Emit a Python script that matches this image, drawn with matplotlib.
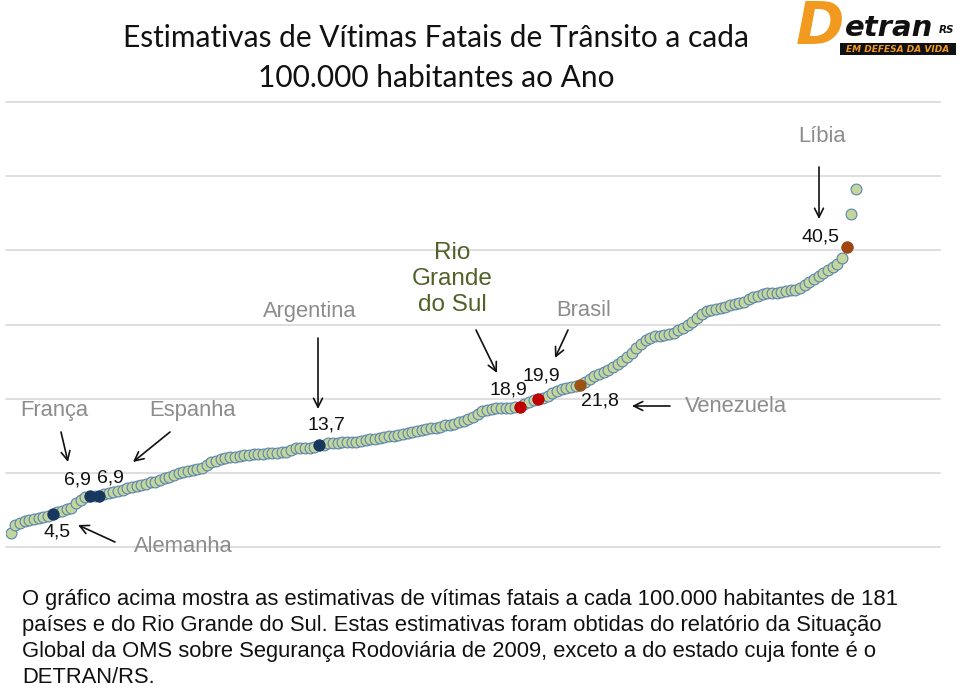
import matplotlib
matplotlib.use("Agg")
import matplotlib.pyplot as plt
from matplotlib.patches import Rectangle

# estimated road deaths per 100.000 inhabitants, sorted (181 countries + RS)
rates = [
    1.9, 3.0, 3.3, 3.5, 3.7, 3.8, 3.9, 4.0, 4.2, 4.5,
    4.7, 4.9, 5.1, 5.3, 5.9, 6.4, 6.7, 6.9, 6.9, 6.9,
    7.1, 7.3, 7.4, 7.6, 7.7, 7.9, 8.1, 8.2, 8.4, 8.5,
    8.7, 8.8, 9.0, 9.3, 9.5, 9.7, 10.0, 10.1, 10.3, 10.4,
    10.5, 10.7, 11.1, 11.4, 11.6, 11.8, 12.0, 12.1, 12.2, 12.3,
    12.4, 12.4, 12.5, 12.6, 12.6, 12.7, 12.7, 12.7, 12.8, 12.8,
    13.1, 13.3, 13.3, 13.4, 13.4, 13.5, 13.7, 13.8, 14.0, 14.0,
    14.0, 14.1, 14.1, 14.1, 14.2, 14.3, 14.4, 14.5, 14.6, 14.7,
    14.8, 14.9, 15.0, 15.1, 15.2, 15.4, 15.5, 15.6, 15.8, 15.9,
    16.0, 16.1, 16.2, 16.4, 16.5, 16.6, 16.8, 17.0, 17.3, 17.5,
    17.9, 18.3, 18.5, 18.6, 18.7, 18.8, 18.8, 18.8, 18.9, 18.9,
    19.3, 19.6, 19.8, 19.9, 20.1, 20.4, 20.7, 21.0, 21.3, 21.5,
    21.6, 21.7, 21.8, 22.3, 22.7, 23.0, 23.3, 23.6, 23.9, 24.3,
    24.7, 25.1, 25.6, 26.2, 26.8, 27.4, 27.9, 28.2, 28.4, 28.5,
    28.6, 28.7, 28.9, 29.2, 29.5, 29.9, 30.4, 30.9, 31.4, 31.8,
    32.0, 32.1, 32.2, 32.4, 32.6, 32.8, 32.9, 33.1, 33.4, 33.7,
    33.9, 34.1, 34.2, 34.3, 34.3, 34.4, 34.5, 34.6, 34.7, 34.9,
    35.3, 35.7, 36.1, 36.5, 36.9, 37.4, 37.7, 38.2, 39.0, 40.5,
    44.9, 48.3,
]
positions = list(range(1, len(rates) + 1))

# highlighted countries: name, position in ranking, colour group
highlight_names = ["Alemanha", "França", "Espanha", "Argentina",
                   "Rio Grande do Sul", "Brasil", "Venezuela", "Líbia"]
highlight_pos = [10, 18, 20, 67, 110, 114, 123, 180]
highlight_colors = ["#17375e", "#17375e", "#17375e", "#17375e",
                    "#c00000", "#c00000", "#9b5316", "#a0460e"]

W, H = 960, 688


def px(x, y):
    return (x / W, 1 - y / H)


fig = plt.figure(figsize=(9.6, 6.88), dpi=100)
fig.patch.set_facecolor("white")
ax = fig.add_axes([6 / W, 1 - 547 / H, 934 / W, 445 / H])

ax.plot(positions, rates, linestyle="none", marker="o", markersize=7.8,
        markerfacecolor="#c3d69b", markeredgecolor="#5b84b1",
        markeredgewidth=0.8, zorder=3)
for p, c in zip(highlight_pos, highlight_colors):
    ax.plot(p, rates[p - 1], marker="o", markersize=7.8, linestyle="none",
            markerfacecolor=c, markeredgecolor=c, zorder=4)

ax.set_xlim(0, 200)
ax.set_ylim(0, 60)
ax.set_yticks(range(0, 61, 10))
ax.set_xticks([])
ax.grid(axis="y", color="#d9d9d9", linewidth=1.2)
for gl in ax.yaxis.get_gridlines():
    gl.set_clip_on(False)
ax.tick_params(left=False, labelleft=False, bottom=False)
for s in ax.spines.values():
    s.set_visible(False)
ax.set_axisbelow(True)

# title
fig.text(*px(436, 38), "Estimativas de Vítimas Fatais de Trânsito a cada",
         family="Lato", fontsize=21.5, ha="center", va="center", color="#111111")
fig.text(*px(436, 78), "100.000 habitantes ao Ano",
         family="Lato", fontsize=21.5, ha="center", va="center", color="#111111")

# logo (text approximation)
fig.text(*px(820, 28), "D", family="DejaVu Sans", fontsize=42, fontweight="bold",
         fontstyle="italic", color="#f29a1f", ha="center", va="center")
fig.text(*px(845, 28), "etran", family="DejaVu Sans", fontsize=21, fontweight="bold",
         fontstyle="italic", color="#111111", ha="left", va="center")
fig.text(*px(947, 30), "RS", family="DejaVu Sans", fontsize=7.5, fontweight="bold",
         fontstyle="italic", color="#111111", ha="center", va="center")
fig.patches.append(Rectangle(px(840, 55), 116 / W, 12 / H, transform=fig.transFigure,
                             facecolor="#111111", edgecolor="none"))
fig.text(*px(898, 49), "EM DEFESA DA VIDA", family="DejaVu Sans", fontsize=6.5,
         fontweight="bold", fontstyle="italic", color="#f29a1f", ha="center", va="center")

gray = "#8c8c8c"
lab = dict(family="Liberation Sans", fontsize=15.8, ha="center", va="center")
fig.text(*px(822, 137), "Líbia", color=gray, **lab)
fig.text(*px(310, 312), "Argentina", color=gray, **lab)
fig.text(*px(584, 310), "Brasil", color=gray, **lab)
fig.text(*px(54, 411), "França", color=gray, **lab)
fig.text(*px(193, 411), "Espanha", color=gray, **lab)
fig.text(*px(736, 406), "Venezuela", color=gray, **lab)
fig.text(*px(183, 546), "Alemanha", color=gray, **lab)
fig.text(*px(452, 279), "Rio\nGrande\ndo Sul", color="#4f6228",
         linespacing=1.22, **dict(lab, fontsize=17.5))

val = dict(family="Liberation Sans", fontsize=14, ha="center", va="center", color="#111111")
fig.text(*px(820, 237), "40,5", **val)
fig.text(*px(326, 425), "13,7", **val)
fig.text(*px(508, 390), "18,9", **val)
fig.text(*px(541, 376), "19,9", **val)
fig.text(*px(600, 401), "21,8", **val)
fig.text(*px(77, 480), "6,9", **val)
fig.text(*px(110, 478), "6,9", **val)
fig.text(*px(57, 532), "4,5", **val)

arrows = [
    ((819, 167), (819, 219)),
    ((318, 338), (318, 409)),
    ((476, 330), (497, 373)),
    ((568, 330), (555, 358)),
    ((670, 406), (632, 406)),
    ((61, 432), (68, 462)),
    ((170, 432), (133, 462)),
    ((115, 542), (78, 525)),
]
for start, end in arrows:
    fig.add_artist(plt.Annotation(
        "", xy=px(*end), xytext=px(*start), xycoords="figure fraction",
        textcoords="figure fraction",
        arrowprops=dict(arrowstyle="->", color="#111111", lw=1.2,
                        mutation_scale=16, shrinkA=0, shrinkB=0)))

foot = [
    "O gráfico acima mostra as estimativas de vítimas fatais a cada 100.000 habitantes de 181",
    "países e do Rio Grande do Sul. Estas estimativas foram obtidas do relatório da Situação",
    "Global da OMS sobre Segurança Rodoviária de 2009, exceto a do estado cuja fonte é o",
    "DETRAN/RS.",
]
for i, line in enumerate(foot):
    fig.text(*px(22, 599 + i * 26.3), line, family="Liberation Sans", fontsize=15.8,
             ha="left", va="center", color="#111111")

fig.savefig("out.png", dpi=100, facecolor="white")
